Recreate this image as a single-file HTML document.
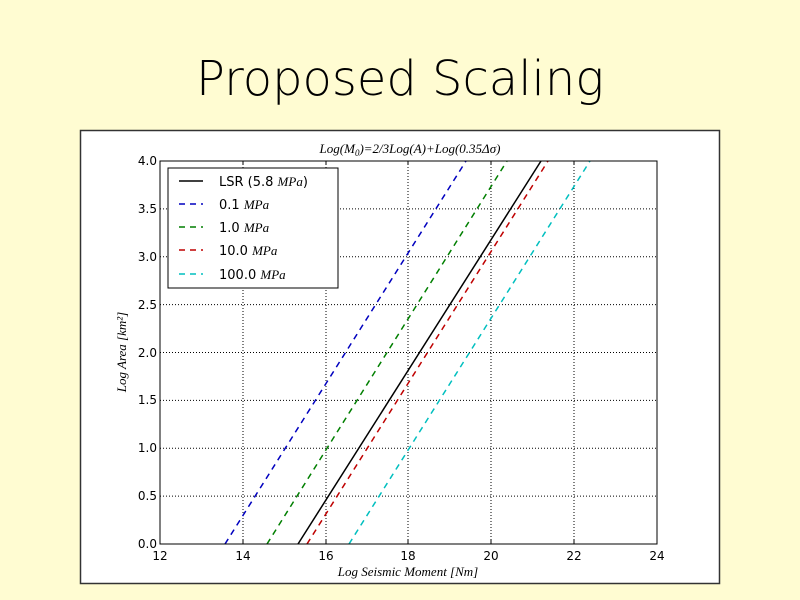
<!DOCTYPE html>
<html><head><meta charset="utf-8"><style>
body{margin:0;width:800px;height:600px;background:#fffcd2;overflow:hidden}
svg{display:block}
</style></head><body>
<svg width="800" height="600" xmlns="http://www.w3.org/2000/svg">
<rect width="800" height="600" fill="#fffcd2"/>
<text x="400" y="95" text-anchor="middle" font-family="DejaVu Sans, sans-serif" font-weight="200" font-size="48" fill="#000" textLength="408" lengthAdjust="spacingAndGlyphs">Proposed Scaling</text>
<rect x="80.5" y="130.5" width="639" height="453" fill="#fff" stroke="#333" stroke-width="1.5"/>
<g stroke="#000" stroke-width="1" stroke-dasharray="1,2">
<line x1="243" y1="161" x2="243" y2="544"/><line x1="326" y1="161" x2="326" y2="544"/>
<line x1="408" y1="161" x2="408" y2="544"/><line x1="491" y1="161" x2="491" y2="544"/>
<line x1="574" y1="161" x2="574" y2="544"/>
<line x1="160" y1="496.1" x2="657" y2="496.1"/><line x1="160" y1="448.3" x2="657" y2="448.3"/>
<line x1="160" y1="400.4" x2="657" y2="400.4"/><line x1="160" y1="352.5" x2="657" y2="352.5"/>
<line x1="160" y1="304.6" x2="657" y2="304.6"/><line x1="160" y1="256.8" x2="657" y2="256.8"/>
<line x1="160" y1="208.9" x2="657" y2="208.9"/>
</g>
<g stroke-width="1.5" fill="none">
<line x1="225" y1="544" x2="466" y2="161" stroke="#0000bf" stroke-dasharray="6,5"/>
<line x1="267" y1="544" x2="507" y2="161" stroke="#007f00" stroke-dasharray="6,5"/>
<line x1="307" y1="544" x2="548" y2="161" stroke="#bf0000" stroke-dasharray="6,5"/>
<line x1="349" y1="544" x2="590" y2="161" stroke="#00bfbf" stroke-dasharray="6,5"/>
<line x1="298" y1="544" x2="541" y2="161" stroke="#000"/>
</g>
<rect x="160" y="161" width="497" height="383" fill="none" stroke="#000" stroke-width="1"/>
<g stroke="#000">
<line x1="243" y1="161" x2="243" y2="165"/><line x1="326" y1="161" x2="326" y2="165"/><line x1="408" y1="161" x2="408" y2="165"/><line x1="491" y1="161" x2="491" y2="165"/><line x1="574" y1="161" x2="574" y2="165"/>
<line x1="243" y1="544" x2="243" y2="540"/><line x1="326" y1="544" x2="326" y2="540"/><line x1="408" y1="544" x2="408" y2="540"/><line x1="491" y1="544" x2="491" y2="540"/><line x1="574" y1="544" x2="574" y2="540"/>
</g>
<g font-family="DejaVu Sans, sans-serif" font-size="12" fill="#000">
<g text-anchor="middle">
<text x="160" y="560">12</text><text x="243" y="560">14</text><text x="326" y="560">16</text><text x="408" y="560">18</text><text x="491" y="560">20</text><text x="574" y="560">22</text><text x="657" y="560">24</text>
</g>
<g text-anchor="end">
<text x="157" y="548">0.0</text><text x="157" y="500">0.5</text><text x="157" y="452">1.0</text><text x="157" y="404">1.5</text><text x="157" y="357">2.0</text><text x="157" y="309">2.5</text><text x="157" y="261">3.0</text><text x="157" y="213">3.5</text><text x="157" y="165">4.0</text>
</g>
</g>
<g font-family="Liberation Serif, serif" font-style="italic" font-size="13" fill="#000">
<text x="410" y="153" text-anchor="middle">Log(M<tspan font-size="9" dy="3">0</tspan><tspan dy="-3">)=2/3Log(A)+Log(0.35Δσ)</tspan></text>
<text x="408" y="576" text-anchor="middle">Log Seismic Moment [Nm]</text>
<text transform="translate(126,352) rotate(-90)" text-anchor="middle">Log Area [km²]</text>
</g>
<rect x="168" y="168" width="170" height="120" fill="#fff" stroke="#000" stroke-width="1"/>
<g stroke-width="1.5">
<line x1="179" y1="181" x2="203" y2="181" stroke="#000"/>
<line x1="179" y1="204" x2="203" y2="204" stroke="#0000bf" stroke-dasharray="6,5"/>
<line x1="179" y1="227" x2="203" y2="227" stroke="#007f00" stroke-dasharray="6,5"/>
<line x1="179" y1="250" x2="203" y2="250" stroke="#bf0000" stroke-dasharray="6,5"/>
<line x1="179" y1="274" x2="203" y2="274" stroke="#00bfbf" stroke-dasharray="6,5"/>
</g>
<g font-family="DejaVu Sans, sans-serif" font-size="13" fill="#000">
<text x="219" y="186">LSR (5.8 <tspan font-family="Liberation Serif, serif" font-style="italic">MPa</tspan>)</text>
<text x="219" y="209">0.1 <tspan font-family="Liberation Serif, serif" font-style="italic">MPa</tspan></text>
<text x="219" y="232">1.0 <tspan font-family="Liberation Serif, serif" font-style="italic">MPa</tspan></text>
<text x="219" y="255">10.0 <tspan font-family="Liberation Serif, serif" font-style="italic">MPa</tspan></text>
<text x="219" y="279">100.0 <tspan font-family="Liberation Serif, serif" font-style="italic">MPa</tspan></text>
</g>
</svg>
</body></html>
